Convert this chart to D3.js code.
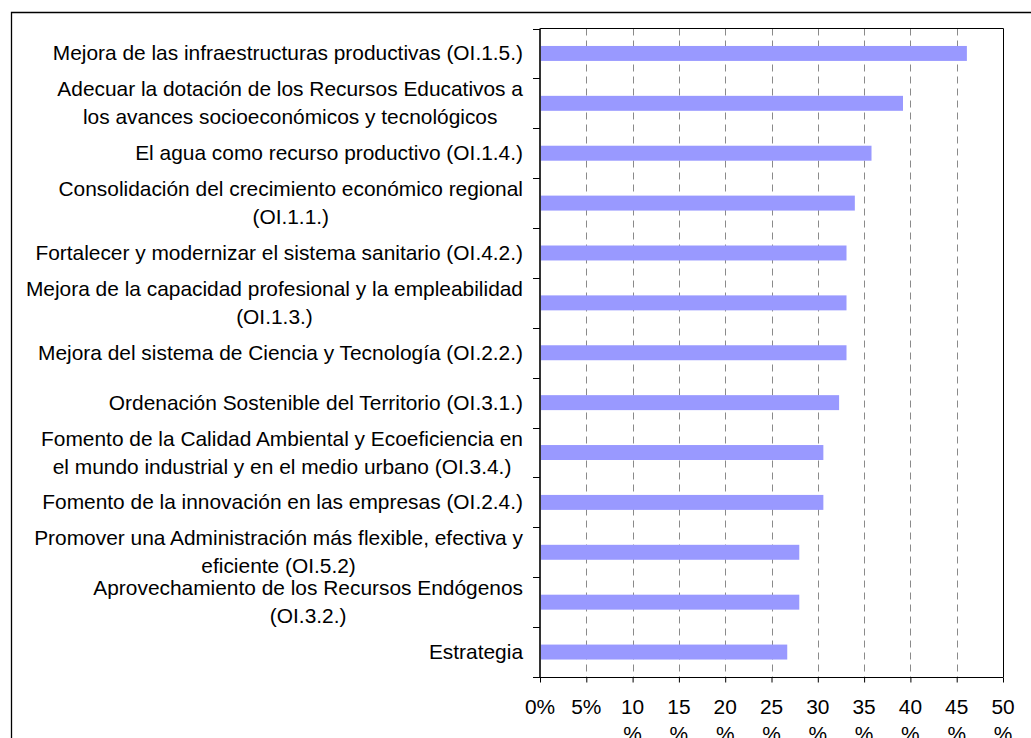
<!DOCTYPE html>
<html>
<head>
<meta charset="utf-8">
<script src="https://cdn.jsdelivr.net/npm/d3@7"></script>
<style>
  html, body { margin: 0; padding: 0; background: #fff; }
  svg { display: block; }
  text { font-family: "Liberation Sans", Arial, sans-serif; fill: #000; }
</style>
</head>
<body>
<svg id="chart" width="1031" height="738"></svg>
<script>
// Objectives, top to bottom (line breaks as in the axis labels)
const categories = [
  "Mejora de las infraestructuras productivas (OI.1.5.)",
  "Adecuar la dotación de los Recursos Educativos a\nlos avances socioeconómicos y tecnológicos",
  "El agua como recurso productivo (OI.1.4.)",
  "Consolidación del crecimiento económico regional\n(OI.1.1.)",
  "Fortalecer y modernizar el sistema sanitario (OI.4.2.)",
  "Mejora de la capacidad profesional y la empleabilidad\n(OI.1.3.)",
  "Mejora del sistema de Ciencia y Tecnología (OI.2.2.)",
  "Ordenación Sostenible del Territorio (OI.3.1.)",
  "Fomento de la Calidad Ambiental y Ecoeficiencia en\nel mundo industrial y en el medio urbano (OI.3.4.)",
  "Fomento de la innovación en las empresas (OI.2.4.)",
  "Promover una Administración más flexible, efectiva y\neficiente (OI.5.2)",
  "Aprovechamiento de los Recursos Endógenos\n(OI.3.2.)",
  "Estrategia"
];

// Share of responses, in percent
const values = [46.1, 39.2, 35.8, 34.0, 33.1, 33.1, 33.1, 32.3, 30.6, 30.6, 28.0, 28.0, 26.7];

// Horizontal axis ticks (percent)
const xTicks = [0, 5, 10, 15, 20, 25, 30, 35, 40, 45, 50];

const svg = d3.select("#chart");

const plot = { left: 540, right: 1003, top: 28.5, bottom: 677 };
const fontSize = 20.9;

const x = d3.scaleLinear().domain([0, 50]).range([plot.left, plot.right]);
const y = d3.scaleBand().domain(d3.range(categories.length))
  .range([plot.top, plot.bottom]).paddingInner(0).paddingOuter(0);
const bw = y.bandwidth();
const barH = bw * 0.3;

// Outer frame
svg.append("path")
  .attr("d", "M11.5,740 V12.5 H1040")
  .attr("fill", "none").attr("stroke", "#000").attr("stroke-width", 1.3);

// Dashed vertical gridlines
svg.append("g")
  .selectAll("line")
  .data(xTicks.filter(t => t > 0 && t < 50))
  .join("line")
  .attr("x1", d => Math.round(x(d)) + 0.5)
  .attr("x2", d => Math.round(x(d)) + 0.5)
  .attr("y1", plot.top).attr("y2", plot.bottom)
  .attr("stroke", "#8a8a8a").attr("stroke-width", 1)
  .attr("stroke-dasharray", "7,5");

// Plot area border (top and right)
svg.append("path")
  .attr("d", `M${plot.left},${plot.top} H${plot.right + 0.5} V${plot.bottom}`)
  .attr("fill", "none").attr("stroke", "#000").attr("stroke-width", 1);

// Bars
svg.append("g")
  .selectAll("rect")
  .data(values)
  .join("rect")
  .attr("x", x(0))
  .attr("y", (d, i) => y(i) + (bw - barH) / 2)
  .attr("width", d => x(d) - x(0))
  .attr("height", barH)
  .attr("fill", "#9999ff");

// Bottom axis
const xAxis = d3.axisBottom(x).tickValues(xTicks).tickSize(5).tickFormat("");
const gx = svg.append("g")
  .attr("transform", `translate(0,${plot.bottom + 0.5})`)
  .call(xAxis);
gx.select(".domain").attr("d", `M${plot.left - 7},0 H${plot.right + 0.5}`).attr("stroke", "#000");
gx.selectAll(".tick line").attr("stroke", "#000");

// Tick labels: values of two digits wrap the percent sign onto a second line
const xl = svg.append("g").attr("font-size", fontSize).attr("text-anchor", "middle");
xTicks.forEach(t => {
  const lines = t >= 10 ? [String(t), "%"] : [t + "%"];
  const txt = xl.append("text").attr("x", x(t)).attr("y", 714);
  lines.forEach((s, k) => {
    txt.append("tspan").attr("x", x(t)).attr("dy", k === 0 ? 0 : 27).text(s);
  });
});

// Left axis line and category boundary ticks
svg.append("line")
  .attr("x1", plot.left).attr("x2", plot.left)
  .attr("y1", plot.top).attr("y2", plot.bottom)
  .attr("stroke", "#333").attr("stroke-width", 2);
const bounds = d3.range(categories.length + 1).map(i => i < categories.length ? y(i) : plot.bottom);
svg.append("g").selectAll("line")
  .data(bounds)
  .join("line")
  .attr("x1", plot.left - 7).attr("x2", plot.left)
  .attr("y1", d => Math.round(d) + 0.5).attr("y2", d => Math.round(d) + 0.5)
  .attr("stroke", "#000");

// Category labels: a block right aligned against the axis, its lines centred
const labelRight = 523;
const lineGap = 28;
const yl = svg.append("g").attr("font-size", fontSize).attr("text-anchor", "middle");
categories.forEach((c, i) => {
  const lines = c.split("\n");
  const cy = y(i) + bw / 2;
  const first = cy + 7 - (lines.length - 1) * lineGap / 2;
  const txt = yl.append("text").attr("y", first);
  const spans = lines.map((s, k) =>
    txt.append("tspan").attr("dy", k === 0 ? 0 : lineGap).text(s));
  const maxW = d3.max(spans, sp => sp.node().getComputedTextLength());
  const cx = labelRight - maxW / 2;
  spans.forEach(sp => sp.attr("x", cx));
});
</script>
</body>
</html>
